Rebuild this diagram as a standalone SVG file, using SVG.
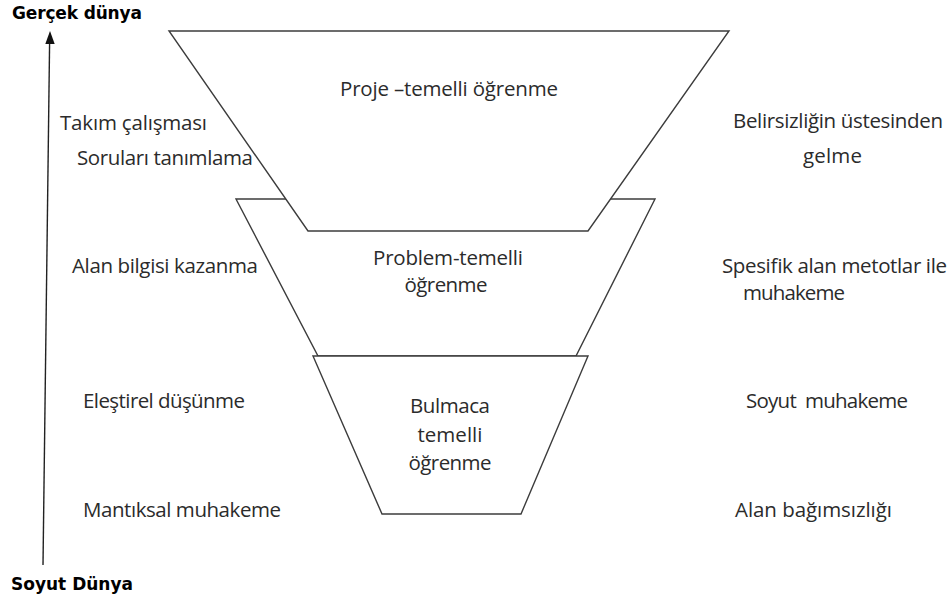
<svg xmlns="http://www.w3.org/2000/svg" width="952" height="601" viewBox="0 0 952 601">
<style>
.shape{fill:#ffffff;stroke:#3c3c3c;stroke-width:1.4;stroke-linejoin:miter}
.t{font-family:"Open Sans","Liberation Sans",sans-serif;font-size:20.5px;fill:#2b2b2b}
.c{text-anchor:middle}
.b{font-family:"DejaVu Sans","Liberation Sans",sans-serif;font-weight:bold;font-size:17px;fill:#000}
.arrow{stroke:#222;stroke-width:1.4;fill:none}
.head{fill:#111;stroke:none}
</style>
<rect width="952" height="601" fill="#ffffff"/>

<g id="connectors">
<line class="arrow" x1="43" y1="565" x2="49.6" y2="42"/>
<polygon class="head" points="50,31 45.3,44 54.7,44"/>
</g>

<g id="node-problem">
<polygon class="shape" points="236,199 655,199 576,356 318,356"/>
<text class="t c" x="448" y="265" textLength="150">Problem-temelli</text>
<text class="t c" x="446" y="292" textLength="83">öğrenme</text>
</g>

<g id="node-bulmaca">
<polygon class="shape" points="313,356 588,356 521,514 382,514"/>
<text class="t c" x="450" y="413" textLength="80">Bulmaca</text>
<text class="t c" x="450" y="442" textLength="65">temelli</text>
<text class="t c" x="450" y="470" textLength="83">öğrenme</text>
</g>

<g id="node-proje">
<polygon class="shape" points="169,31 729,31 588,231 308,231"/>
<text class="t c" x="449" y="96" textLength="218">Proje –temelli öğrenme</text>
</g>

<g id="label-gercek">
<text class="b" x="12" y="19" textLength="130">Gerçek dünya</text>
</g>
<g id="label-soyut">
<text class="b" x="11" y="590" textLength="122">Soyut Dünya</text>
</g>

<g id="left-labels">
<text class="t" x="60" y="130" textLength="147">Takım çalışması</text>
<text class="t" x="77" y="165" textLength="176">Soruları tanımlama</text>
<text class="t" x="72" y="273" textLength="186">Alan bilgisi kazanma</text>
<text class="t" x="83" y="408" textLength="162">Eleştirel düşünme</text>
<text class="t" x="83" y="517" textLength="198">Mantıksal muhakeme</text>
</g>

<g id="right-labels">
<text class="t" x="733" y="128" textLength="210">Belirsizliğin üstesinden</text>
<text class="t" x="803" y="163" textLength="59">gelme</text>
<text class="t" x="722" y="273" textLength="225">Spesifik alan metotlar ile</text>
<text class="t" x="743" y="300" textLength="102">muhakeme</text>
<text class="t" x="746" y="408" textLength="162" xml:space="preserve">Soyut  muhakeme</text>
<text class="t" x="735" y="517" textLength="157">Alan bağımsızlığı</text>
</g>
</svg>
